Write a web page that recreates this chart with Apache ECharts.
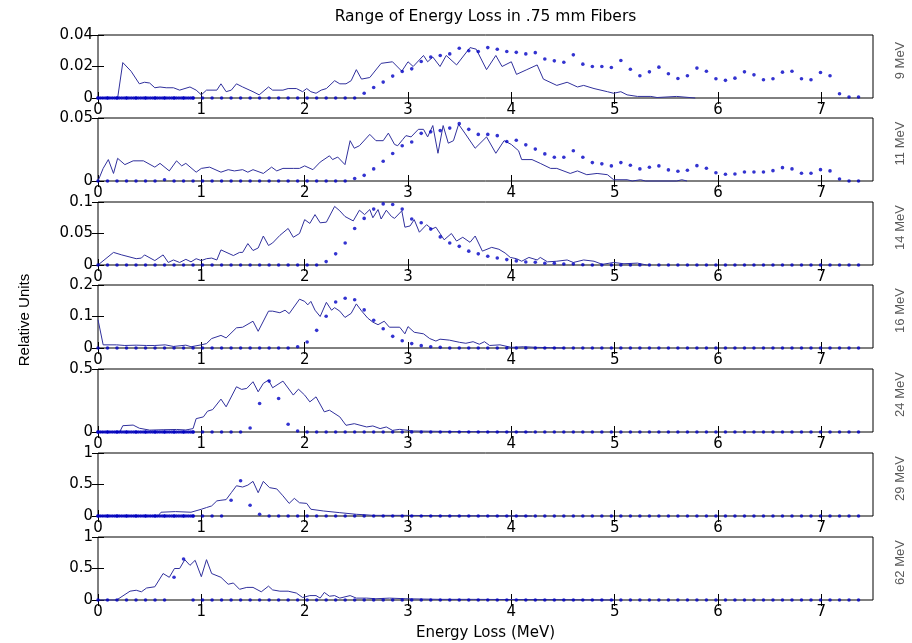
<!DOCTYPE html>
<html>
<head>
<meta charset="utf-8">
<script src="https://cdn.jsdelivr.net/npm/echarts@6/dist/echarts.min.js"></script>
<style>
html, body { margin: 0; padding: 0; background: #fff; }
#main { width: 912px; height: 643px; }
</style>
</head>
<body>
<div id="main"></div>
<script>
// beam energies, one panel each (top to bottom)
var energies = ['9 MeV', '11 MeV', '14 MeV', '16 MeV', '24 MeV', '29 MeV', '62 MeV'];
var yMax = [0.04, 0.05, 0.1, 0.2, 0.5, 1, 1];
var yStep = [0.02, 0.05, 0.05, 0.1, 0.5, 0.5, 0.5];
var xMax = 7.5;
var xTicks = [0, 1, 2, 3, 4, 5, 6, 7];

// dotted series: bins of 0.092 MeV, 81 bins
var dotBin = 0.092;
// fine zero bins drawn below 0.92 MeV in some panels
var fineBin = 0.023;
var fineCount = 41;
var finePanels = [0, 4, 5];

// solid series, [energy loss, relative units]
var line9 = [[0,0],[0.19,0],[0.24,0.0225],[0.32,0.017],[0.40,0.009],[0.45,0.010],[0.50,0.0095],[0.55,0.0065],[0.60,0.007],[0.66,0.0065],
  [0.73,0.0065],[0.79,0.005],[0.89,0.007],[0.95,0.005],[1.00,0.002],[1.05,0.005],[1.15,0.005],[1.19,0.009],[1.24,0.004],[1.29,0.005],
  [1.34,0.009],[1.40,0.007],[1.50,0.004],[1.56,0.002],[1.65,0.007],[1.69,0.005],[1.79,0.005],[1.84,0.006],[1.92,0.006],[1.98,0.004],
  [2.02,0.006],[2.06,0.004],[2.11,0.003],[2.16,0.005],[2.21,0.006],[2.29,0.011],[2.34,0.009],[2.40,0.009],[2.45,0.011],[2.50,0.018],
  [2.55,0.012],[2.63,0.013],[2.74,0.022],[2.85,0.023],[2.94,0.017],[3.00,0.023],[3.05,0.020],[3.15,0.027],[3.19,0.023],[3.24,0.026],
  [3.31,0.020],[3.37,0.027],[3.47,0.021],[3.60,0.032],[3.66,0.031],[3.76,0.018],[3.85,0.027],[3.91,0.020],[4.00,0.023],[4.05,0.015],
  [4.15,0.018],[4.25,0.021],[4.31,0.012],[4.44,0.008],[4.54,0.010],[4.64,0.007],[4.70,0.008],[4.80,0.006],[4.93,0.004],[4.99,0.003],
  [5.06,0.004],[5.12,0.002],[5.22,0.001],[5.35,0.001],[5.41,0.0003],[5.60,0.001],[5.78,0]];
var line11 = [[0,0],[0.05,0.010],[0.10,0.017],[0.15,0.006],[0.19,0.018],[0.26,0.013],[0.34,0.016],[0.44,0.016],[0.55,0.011],[0.60,0.014],
  [0.69,0.008],[0.76,0.016],[0.81,0.012],[0.85,0.014],[0.95,0.007],[1.00,0.010],[1.08,0.011],[1.19,0.007],[1.26,0.009],[1.32,0.008],
  [1.40,0.009],[1.45,0.007],[1.50,0.009],[1.60,0.006],[1.68,0.011],[1.73,0.008],[1.79,0.010],[1.89,0.010],[1.95,0.010],[2.00,0.012],
  [2.08,0.009],[2.15,0.015],[2.24,0.020],[2.27,0.017],[2.32,0.019],[2.39,0.013],[2.44,0.032],[2.48,0.026],[2.53,0.028],[2.63,0.037],
  [2.69,0.032],[2.76,0.032],[2.81,0.038],[2.87,0.029],[2.90,0.028],[2.95,0.033],[2.98,0.036],[3.03,0.035],[3.10,0.041],[3.15,0.041],
  [3.19,0.035],[3.24,0.044],[3.29,0.022],[3.34,0.044],[3.39,0.030],[3.44,0.032],[3.49,0.045],[3.55,0.038],[3.65,0.026],[3.76,0.035],
  [3.85,0.022],[3.93,0.032],[4.00,0.029],[4.07,0.024],[4.10,0.017],[4.20,0.017],[4.28,0.014],[4.38,0.010],[4.44,0.010],[4.57,0.006],
  [4.64,0.008],[4.73,0.005],[4.83,0.006],[4.93,0.005],[4.99,0.001],[5.12,0.001],[5.17,0],[5.25,0.001],[5.30,0],[5.60,0],[5.65,0.001],[5.70,0]];
var line14 = [[0,0],[0.15,0.020],[0.23,0.016],[0.37,0.010],[0.42,0.011],[0.45,0.016],[0.55,0.007],[0.63,0.016],[0.68,0.004],[0.73,0.008],
  [0.79,0.004],[0.85,0.009],[0.90,0.005],[0.95,0.010],[1.00,0.007],[1.05,0.010],[1.10,0.011],[1.15,0.008],[1.19,0.024],[1.31,0.015],
  [1.37,0.020],[1.40,0.020],[1.45,0.034],[1.50,0.023],[1.55,0.027],[1.60,0.046],[1.65,0.031],[1.69,0.035],[1.76,0.047],[1.84,0.058],
  [1.89,0.044],[1.95,0.050],[2.00,0.072],[2.05,0.066],[2.10,0.080],[2.15,0.067],[2.21,0.068],[2.29,0.093],[2.34,0.086],[2.39,0.077],
  [2.47,0.070],[2.53,0.087],[2.58,0.080],[2.63,0.088],[2.66,0.075],[2.71,0.088],[2.74,0.073],[2.79,0.087],[2.84,0.077],[2.87,0.074],
  [2.94,0.086],[2.97,0.060],[3.02,0.062],[3.06,0.072],[3.11,0.052],[3.18,0.064],[3.23,0.057],[3.27,0.060],[3.31,0.050],[3.35,0.040],
  [3.42,0.050],[3.47,0.038],[3.53,0.044],[3.60,0.036],[3.65,0.046],[3.72,0.022],[3.81,0.028],[3.88,0.025],[3.94,0.019],[3.99,0.012],
  [4.05,0.010],[4.10,0.006],[4.17,0.012],[4.25,0.008],[4.28,0.012],[4.35,0.005],[4.44,0.006],[4.54,0.008],[4.60,0.004],[4.70,0.008],
  [4.80,0.006],[4.88,0.001],[4.99,0.004],[5.09,0.002],[5.22,0.003],[5.31,0]];
var line16 = [[0,0.090],[0.05,0.010],[0.18,0.010],[0.26,0.008],[0.37,0.009],[0.47,0.008],[0.55,0.008],[0.65,0.010],[0.73,0.005],[0.85,0.009],
  [0.90,0.004],[1.00,0.010],[1.05,0.014],[1.10,0.030],[1.19,0.040],[1.24,0.032],[1.34,0.064],[1.40,0.066],[1.50,0.085],[1.55,0.053],
  [1.65,0.117],[1.69,0.117],[1.76,0.112],[1.81,0.120],[1.85,0.109],[1.95,0.155],[2.00,0.148],[2.03,0.137],[2.06,0.148],[2.10,0.120],
  [2.15,0.100],[2.21,0.145],[2.26,0.120],[2.29,0.128],[2.34,0.117],[2.39,0.097],[2.45,0.110],[2.50,0.140],[2.55,0.118],[2.61,0.095],
  [2.66,0.082],[2.71,0.074],[2.77,0.085],[2.82,0.066],[2.92,0.066],[2.97,0.045],[3.00,0.068],[3.06,0.050],[3.15,0.045],[3.21,0.030],
  [3.27,0.022],[3.31,0.028],[3.40,0.025],[3.50,0.018],[3.56,0.015],[3.63,0.020],[3.69,0.012],[3.74,0.020],[3.79,0.008],[3.89,0.010],
  [4.00,0.002],[4.12,0.004],[4.25,0.002],[4.38,0.001],[4.51,0]];
var line24 = [[0,0],[0.21,0],[0.24,0.050],[0.34,0.055],[0.40,0.030],[0.50,0.015],[0.63,0.018],[0.76,0.020],[0.85,0.016],[0.92,0.027],
  [0.95,0.106],[1.02,0.120],[1.06,0.165],[1.11,0.178],[1.19,0.261],[1.24,0.200],[1.34,0.359],[1.39,0.338],[1.44,0.346],[1.50,0.399],
  [1.55,0.319],[1.60,0.386],[1.65,0.412],[1.69,0.351],[1.79,0.404],[1.89,0.293],[1.94,0.340],[2.00,0.293],[2.05,0.239],[2.11,0.279],
  [2.19,0.160],[2.24,0.173],[2.34,0.120],[2.40,0.053],[2.48,0.066],[2.60,0.040],[2.66,0.048],[2.73,0.027],[2.79,0.040],[2.85,0.013],
  [2.92,0.021],[3.05,0.008],[3.31,0.005],[3.63,0.003],[4.20,0]];
var line29 = [[0,0],[0.58,0],[0.61,0.06],[0.75,0.07],[0.90,0.06],[1.00,0.107],[1.05,0.134],[1.10,0.16],[1.15,0.24],[1.19,0.25],
  [1.24,0.26],[1.29,0.37],[1.34,0.48],[1.40,0.46],[1.45,0.49],[1.50,0.55],[1.55,0.37],[1.60,0.55],[1.66,0.45],[1.73,0.43],
  [1.79,0.32],[1.85,0.20],[1.90,0.28],[1.95,0.21],[2.02,0.20],[2.06,0.107],[2.18,0.08],[2.34,0.053],[2.50,0.027],[2.58,0.02],
  [2.66,0.01],[2.98,0.01],[3.31,0.005],[3.63,0.003],[4.20,0]];
var line62 = [[0,0],[0.18,0],[0.31,0.14],[0.37,0.155],[0.42,0.13],[0.47,0.19],[0.55,0.21],[0.63,0.42],[0.69,0.36],[0.74,0.50],
  [0.79,0.50],[0.84,0.64],[0.89,0.55],[0.94,0.63],[1.00,0.37],[1.05,0.64],[1.10,0.42],[1.19,0.36],[1.26,0.25],[1.31,0.27],
  [1.37,0.17],[1.44,0.20],[1.50,0.20],[1.58,0.13],[1.65,0.22],[1.69,0.16],[1.76,0.14],[1.84,0.14],[1.92,0.11],[1.98,0.04],
  [2.05,0.07],[2.11,0.07],[2.15,0.03],[2.19,0.12],[2.24,0.06],[2.29,0.07],[2.34,0.03],[2.44,0.07],[2.50,0.03],[2.60,0.03],
  [2.69,0.02],[2.82,0.03],[2.98,0.02],[3.31,0.01],[3.63,0.01],[3.89,0.008],[4.50,0.005],[5.00,0]];

// dotted series values per 0.092 MeV bin
var dots9 = [0,0,0,0,0,0,0,0,0,0,
  0,0,0,0,0,0,0,0,0,0,
  0,0,0,0,0,0,0,0,0.003,0.0067,
  0.0101,0.0139,0.0168,0.0185,0.0232,0.026,0.027,0.028,0.0316,0.030,
  0.0295,0.032,0.031,0.0295,0.029,0.028,0.0288,0.0248,0.0236,0.0227,
  0.0274,0.0215,0.020,0.020,0.0194,0.0238,0.0183,0.0141,0.0166,0.0196,
  0.0154,0.0124,0.0141,0.019,0.017,0.0122,0.0112,0.0126,0.0166,0.0147,
  0.0116,0.0122,0.0164,0.017,0.0122,0.0116,0.0162,0.0141,0.0027,0.0006,
  0.0006];
var dots11 = [0,0,0,0,0,0,0,0.001,0,0,
  0,0,0,0,0,0,0,0,0,0,
  0,0,0,0,0,0,0,0.002,0.0045,0.0096,
  0.0157,0.0218,0.028,0.031,0.0378,0.039,0.040,0.042,0.0455,0.041,
  0.037,0.037,0.036,0.0314,0.0324,0.0287,0.0253,0.0215,0.0189,0.0189,
  0.024,0.0189,0.0146,0.0136,0.012,0.0146,0.0125,0.0096,0.0109,0.012,
  0.0088,0.0077,0.0085,0.0122,0.0101,0.0066,0.0053,0.0056,0.0072,0.0072,
  0.0072,0.0082,0.0106,0.0096,0.0061,0.0061,0.009,0.008,0.0016,0,
  0];
var dots14 = [0,0,0,0,0,0,0,0,0,0,
  0,0,0,0,0,0,0,0,0,0,
  0,0,0,0,0.0054,0.0177,0.035,0.058,0.074,0.0887,
  0.097,0.096,0.0887,0.073,0.067,0.057,0.0446,0.035,0.0296,0.022,
  0.0177,0.014,0.011,0.0086,0.0065,0.0048,0.0043,0.0027,0.0027,0.0016,
  0.0016,0.0005,0,0,0,0,0,0,0,0,
  0,0,0,0,0,0,0,0,0,0,
  0,0,0,0,0,0,0,0,0,0,
  0];
var dots16 = [0,0,0,0,0,0,0,0,0,0,
  0,0,0,0,0,0,0,0,0,0,
  0,0.004,0.019,0.056,0.101,0.146,0.158,0.153,0.121,0.088,
  0.061,0.037,0.023,0.014,0.0075,0.004,0.002,0,0,0,
  0,0,0,0,0,0,0,0,0,0,
  0,0,0,0,0,0,0,0,0,0,
  0,0,0,0,0,0,0,0,0,0,
  0,0,0,0,0,0,0,0,0,0,
  0];
var dots24 = [0,0,0,0,0,0,0,0,0,0,
  0,0,0,0,0,0,0.032,0.226,0.404,0.266,
  0.061,0.008,0,0,0,0,0,0,0,0,
  0,0,0,0,0,0,0,0,0,0,
  0,0,0,0,0,0,0,0,0,0,
  0,0,0,0,0,0,0,0,0,0,
  0,0,0,0,0,0,0,0,0,0,
  0,0,0,0,0,0,0,0,0,0,
  0];
var dots29 = [0,0,0,0,0,0,0,0,0,0,
  0,0,0,0,0.25,0.56,0.17,0.027,0,0,
  0,0,0,0,0,0,0,0,0,0,
  0,0,0,0,0,0,0,0,0,0,
  0,0,0,0,0,0,0,0,0,0,
  0,0,0,0,0,0,0,0,0,0,
  0,0,0,0,0,0,0,0,0,0,
  0,0,0,0,0,0,0,0,0,0,
  0];
var dots62 = [0,0,0,0,0,0,0,0,0.36,0.65,
  0,0,0,0,0,0,0,0,0,0,
  0,0,0,0,0,0,0,0,0,0,
  0,0,0,0,0,0,0,0,0,0,
  0,0,0,0,0,0,0,0,0,0,
  0,0,0,0,0,0,0,0,0,0,
  0,0,0,0,0,0,0,0,0,0,
  0,0,0,0,0,0,0,0,0,0,
  0];

var lines = [line9, line11, line14, line16, line24, line29, line62];
var dots = [dots9, dots11, dots14, dots16, dots24, dots29, dots62];

// layout
var panelTops = [35, 118, 202, 285, 369, 453, 537];
var panelHeight = 63;
var plotLeft = 98, plotWidth = 775;
var tickFont = 'DejaVu Sans';
var lineColor = '#30309c';
var dotColor = '#0000c4';

var chart = echarts.init(document.getElementById('main'), null, {renderer: 'canvas'});

var grids = [], xAxes = [], yAxes = [], series = [], texts = [];

for (var i = 0; i < energies.length; i++) {
    grids.push({
        left: plotLeft, width: plotWidth, top: panelTops[i], height: panelHeight,
        show: true, borderColor: '#000', borderWidth: 1, backgroundColor: 'transparent'
    });
    var yTick = {inside: true, length: 6, lineStyle: {color: '#000', width: 1}};
    var xTick = {inside: true, length: 6, customValues: xTicks, lineStyle: {color: '#000', width: 1}};
    xAxes.push({
        gridIndex: i, type: 'value', position: 'bottom', min: 0, max: xMax, interval: 1,
        axisLine: {show: false}, axisTick: xTick, splitLine: {show: false},
        axisLabel: {color: '#000', fontSize: 15, fontFamily: tickFont, margin: 5, customValues: xTicks}
    });
    xAxes.push({
        gridIndex: i, type: 'value', position: 'top', min: 0, max: xMax, interval: 1,
        axisLine: {show: false}, axisTick: xTick, splitLine: {show: false},
        axisLabel: {show: false}
    });
    yAxes.push({
        gridIndex: i, type: 'value', position: 'left', min: 0, max: yMax[i], interval: yStep[i],
        axisLine: {show: false}, axisTick: yTick, splitLine: {show: false},
        axisLabel: {color: '#000', fontSize: 15, fontFamily: tickFont, margin: 5}
    });
    yAxes.push({
        gridIndex: i, type: 'value', position: 'right', min: 0, max: yMax[i], interval: yStep[i],
        axisLine: {show: false}, axisTick: yTick, splitLine: {show: false},
        axisLabel: {show: false}
    });

    series.push({
        type: 'line', xAxisIndex: 2 * i, yAxisIndex: 2 * i,
        data: lines[i], showSymbol: false, symbol: 'none', clip: false, silent: true,
        lineStyle: {color: lineColor, width: 1}, z: 2
    });
    series.push({
        type: 'scatter', xAxisIndex: 2 * i, yAxisIndex: 2 * i,
        data: dots[i].map(function (v, k) { return [k * dotBin, v]; }),
        symbol: 'circle', symbolSize: 3.6, clip: false, silent: true,
        itemStyle: {color: dotColor}, z: 3
    });
    if (finePanels.indexOf(i) >= 0) {
        var fine = [];
        for (var k = 0; k < fineCount; k++) fine.push([k * fineBin, 0]);
        series.push({
            type: 'scatter', xAxisIndex: 2 * i, yAxisIndex: 2 * i,
            data: fine, symbol: 'circle', symbolSize: 3.6, clip: false, silent: true,
            itemStyle: {color: dotColor}, z: 3
        });
    }

    texts.push({
        type: 'text', x: 900, y: panelTops[i] + panelHeight / 2 - 6, rotation: Math.PI / 2,
        style: {text: energies[i], font: '13px "Liberation Sans"', fill: '#5a5a5a',
            align: 'center', verticalAlign: 'middle', textAlign: 'center', textVerticalAlign: 'middle'}
    });
}

texts.push({
    type: 'text', x: plotLeft + plotWidth / 2, y: 17,
    style: {text: 'Range of Energy Loss in .75 mm Fibers', font: '15.5px "DejaVu Sans"', fill: '#000',
        align: 'center', verticalAlign: 'middle', textAlign: 'center', textVerticalAlign: 'middle'}
});
texts.push({
    type: 'text', x: plotLeft + plotWidth / 2, y: 633,
    style: {text: 'Energy Loss (MeV)', font: '15px "DejaVu Sans"', fill: '#000',
        align: 'center', verticalAlign: 'middle', textAlign: 'center', textVerticalAlign: 'middle'}
});
texts.push({
    type: 'text', x: 25, y: 320, rotation: Math.PI / 2,
    style: {text: 'Relative Units', font: '15px "Liberation Sans"', fill: '#000',
        align: 'center', verticalAlign: 'middle', textAlign: 'center', textVerticalAlign: 'middle'}
});

chart.setOption({
    animation: false,
    grid: grids,
    xAxis: xAxes,
    yAxis: yAxes,
    series: series,
    graphic: texts
});
</script>
</body>
</html>
